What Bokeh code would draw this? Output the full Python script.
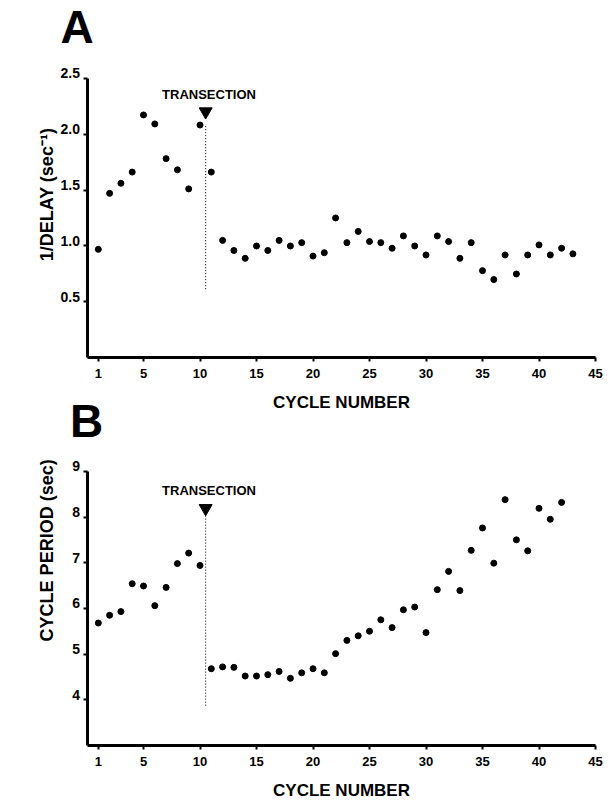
import math
from bokeh.plotting import figure
from bokeh.models import (FixedTicker, Label, CustomJSTickFormatter, LinearAxis,
                          Range1d)
from bokeh.embed import file_html
from bokeh.resources import INLINE
from bokeh.core.properties import value

# ---- data ----
cycles_a = list(range(1, 44))
inv_delay = [0.97, 1.47, 1.56, 1.66, 2.17, 2.09, 1.78, 1.68, 1.51, 2.08,
             1.66, 1.05, 0.96, 0.89, 1.00, 0.96, 1.05, 1.00, 1.03, 0.91,
             0.94, 1.25, 1.03, 1.13, 1.04, 1.03, 0.98, 1.09, 1.00, 0.92,
             1.09, 1.04, 0.89, 1.03, 0.78, 0.70, 0.92, 0.75, 0.92, 1.01,
             0.92, 0.98, 0.93]

cycles_b = list(range(1, 43))
cycle_period = [5.68, 5.85, 5.93, 6.54, 6.49, 6.06, 6.46, 6.98, 7.21, 6.94,
                4.68, 4.72, 4.71, 4.52, 4.52, 4.55, 4.62, 4.47, 4.59, 4.68,
                4.59, 5.01, 5.30, 5.40, 5.50, 5.75, 5.58, 5.97, 6.03, 5.47,
                6.41, 6.81, 6.39, 7.27, 7.76, 6.99, 8.38, 7.50, 7.26, 8.19,
                7.95, 8.32]

x_ticks = [1, 5, 10, 15, 20, 25, 30, 35, 40, 45]
y_ticks_a = [0.5, 1.0, 1.5, 2.0, 2.5]
y_ticks_b = [4, 5, 6, 7, 8, 9]

transection_cycle = 10.5

FONT = "Liberation Sans"

W, H = 612, 800
p = figure(width=W, height=H, output_backend="svg", toolbar_location=None,
           x_axis_location=None, y_axis_location=None,
           x_range=Range1d(-7.655, 46.504), y_range=Range1d(-3.951, 3.192),
           min_border=0)
p.title = None
p.extra_y_ranges = {"b": Range1d(1.7965, 19.302)}
p.xgrid.visible = False
p.ygrid.visible = False
p.outline_line_color = None
p.background_fill_color = "white"
p.border_fill_color = "white"


def base_axis(**kw):
    ax = LinearAxis(**kw)
    ax.axis_line_width = 3
    ax.axis_line_color = "black"
    ax.major_tick_line_width = 2
    ax.major_tick_line_color = "black"
    ax.major_tick_out = 4
    ax.major_tick_in = 0
    ax.minor_tick_line_color = None
    ax.major_label_text_font = FONT
    ax.major_label_text_font_style = "bold"
    ax.major_label_text_color = "black"
    return ax


def x_axis(**kw):
    ax = base_axis(**kw)
    ax.ticker = FixedTicker(ticks=x_ticks)
    ax.major_label_text_font_size = "13px"
    ax.major_label_standoff = 7
    ax.axis_label = "CYCLE NUMBER"
    ax.axis_label_text_font = FONT
    ax.axis_label_text_font_style = "bold"
    ax.axis_label_text_font_size = "17px"
    ax.axis_label_text_color = "black"
    ax.axis_label_standoff = 12
    p.add_layout(ax, "below")


def y_axes(ticks, decimals, lift, bounds, **kw):
    # axis line and tick marks
    ax = base_axis(bounds=bounds, **kw)
    ax.ticker = FixedTicker(ticks=ticks)
    ax.major_label_text_color = None
    p.add_layout(ax, "left")
    # tick labels, set slightly above their tick marks as in the original
    lab = base_axis(bounds=(bounds[0], bounds[1] + 1), **kw)
    lab.axis_line_color = None
    lab.major_tick_line_color = None
    lab.ticker = FixedTicker(ticks=[t + lift for t in ticks])
    lab.formatter = CustomJSTickFormatter(
        code=f"return (tick - {lift}).toFixed({decimals});")
    lab.major_label_text_font_size = "14px"
    lab.major_label_standoff = 3
    p.add_layout(lab, "left")


# panel A axes
y_axes(y_ticks_a, 1, 0.045, (0, 2.5), fixed_location=0)
x_axis(fixed_location=0, bounds=(0, 45))
# panel B axes
y_axes(y_ticks_b, 0, 0.11, (3, 9), y_range_name="b", fixed_location=0)
x_axis(y_range_name="b", fixed_location=3, bounds=(0, 45))


def decorate(xs, ys, rname, letter, letter_x, letter_y, ylabel, ylabel_y,
             tri_y, text_y, line_top, line_bot):
    p.scatter(xs, ys, size=6, color="black", marker="circle", y_range_name=rname)
    p.segment(x0=[transection_cycle], y0=[line_top], x1=[transection_cycle], y1=[line_bot],
              line_color="black", line_width=1, line_dash="1 2", y_range_name=rname)
    p.scatter([transection_cycle], [tri_y], marker="inverted_triangle", size=13,
              color="black", y_range_name=rname)
    p.text(x=[10.8], y=[text_y], text=["TRANSECTION"], text_font=value(FONT),
           text_font_style="bold", text_font_size="13px", text_align="center",
           text_baseline="middle", text_color="black", y_range_name=rname)
    p.add_layout(Label(x=letter_x, y=letter_y, text=letter, text_font=FONT,
                       text_font_style="bold", text_font_size="46px",
                       text_align="center", text_baseline="middle",
                       text_color="black", y_range_name=rname))
    p.add_layout(Label(x=-3.54, y=ylabel_y, text=ylabel, angle=math.pi / 2,
                       text_font=FONT, text_font_style="bold",
                       text_font_size="18px", text_align="center",
                       text_baseline="middle", text_color="black",
                       y_range_name=rname))


decorate(cycles_a, inv_delay, "default", "A", -0.885, 2.955,
         "1/DELAY (sec\u207B\u00B9)", 1.46, 2.2, 2.35, 2.07, 0.60)
decorate(cycles_b, cycle_period, "b", "B", -0.04, 10.09,
         "CYCLE PERIOD (sec)", 7.27, 8.19, 8.58, 8.03, 3.84)

open("out.html", "w").write(file_html(p, INLINE))
